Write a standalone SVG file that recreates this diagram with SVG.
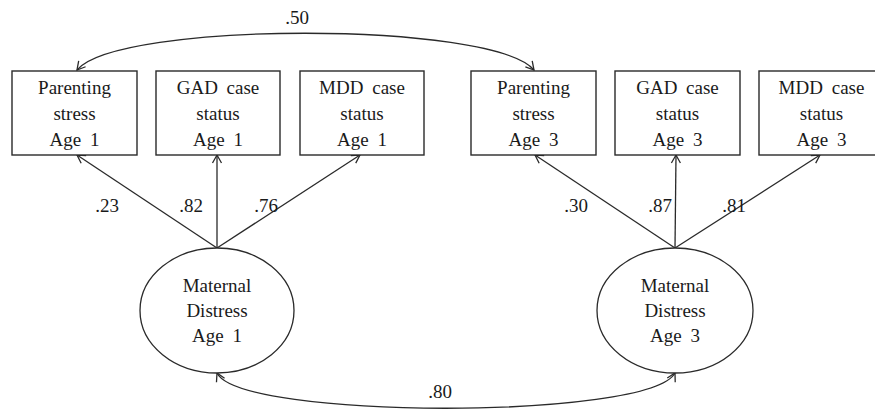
<svg xmlns="http://www.w3.org/2000/svg" width="875" height="414" viewBox="0 0 875 414">
  <style>
    .box { fill: #fff; stroke: #2a2a2a; stroke-width: 1.4; }
    .lat { fill: #fff; stroke: #2a2a2a; stroke-width: 1.3; }
    .lbl { font-family: "Liberation Serif", "Times New Roman", serif; font-size: 19px; word-spacing: 4px; fill: #1a1a1a; text-anchor: middle; }
    .edge { fill: none; stroke: #2a2a2a; stroke-width: 1.3; }
  </style>
  <defs>
    <!-- open V arrowhead, used at both ends of the curved correlations -->
    <marker id="vee" markerUnits="userSpaceOnUse" markerWidth="12" markerHeight="12" viewBox="-10 -6 12 12" refX="0" refY="0" orient="auto-start-reverse">
      <path d="M-8,-4.5 L0,0 L-8,4.5" fill="none" stroke="#2a2a2a" stroke-width="1.3"/>
    </marker>
  </defs>
  <rect width="875" height="414" fill="#fff"/>

  <!-- connectors: factor loadings and correlations -->
  <g id="connectors">
    <path class="edge" d="M217,248 L77,155" marker-end="url(#vee)"/>
    <path class="edge" d="M217,248 L217,155" marker-end="url(#vee)"/>
    <path class="edge" d="M217,248 L360,155" marker-end="url(#vee)"/>
    <path class="edge" d="M675,248 L535,155" marker-end="url(#vee)"/>
    <path class="edge" d="M675,248 L676,155" marker-end="url(#vee)"/>
    <path class="edge" d="M675,248 L820,155" marker-end="url(#vee)"/>
    <path class="edge" d="M77,70 C118,21 492,21 534,70" marker-start="url(#vee)" marker-end="url(#vee)"/>
    <path class="edge" d="M217,373 C240,420 650,420 675,373" marker-start="url(#vee)" marker-end="url(#vee)"/>
    <text class="lbl" x="297" y="24">.50</text>
    <text class="lbl" x="107" y="212">.23</text>
    <text class="lbl" x="191" y="212">.82</text>
    <text class="lbl" x="266" y="212">.76</text>
    <text class="lbl" x="576" y="212">.30</text>
    <text class="lbl" x="660" y="212">.87</text>
    <text class="lbl" x="734" y="212">.81</text>
    <text class="lbl" x="440" y="398">.80</text>
  </g>

  <g id="ps1">
    <rect class="box" x="12" y="71" width="125" height="84"/>
    <text class="lbl" x="74.5" y="94">Parenting</text>
    <text class="lbl" x="74.5" y="120">stress</text>
    <text class="lbl" x="74.5" y="146">Age 1</text>
  </g>
  <g id="gad1">
    <rect class="box" x="156" y="71" width="124" height="84"/>
    <text class="lbl" x="218" y="94">GAD case</text>
    <text class="lbl" x="218" y="120">status</text>
    <text class="lbl" x="218" y="146">Age 1</text>
  </g>
  <g id="mdd1">
    <rect class="box" x="300" y="71" width="124" height="84"/>
    <text class="lbl" x="362" y="94">MDD case</text>
    <text class="lbl" x="362" y="120">status</text>
    <text class="lbl" x="362" y="146">Age 1</text>
  </g>
  <g id="ps3">
    <rect class="box" x="471" y="71" width="125" height="84"/>
    <text class="lbl" x="533.5" y="94">Parenting</text>
    <text class="lbl" x="533.5" y="120">stress</text>
    <text class="lbl" x="533.5" y="146">Age 3</text>
  </g>
  <g id="gad3">
    <rect class="box" x="615" y="71" width="125" height="84"/>
    <text class="lbl" x="677.5" y="94">GAD case</text>
    <text class="lbl" x="677.5" y="120">status</text>
    <text class="lbl" x="677.5" y="146">Age 3</text>
  </g>
  <g id="mdd3">
    <rect class="box" x="759" y="71" width="125" height="84"/>
    <text class="lbl" x="821.5" y="94">MDD case</text>
    <text class="lbl" x="821.5" y="120">status</text>
    <text class="lbl" x="821.5" y="146">Age 3</text>
  </g>

  <g id="md1">
    <ellipse class="lat" cx="217" cy="310.5" rx="77" ry="62.5"/>
    <text class="lbl" x="217" y="292">Maternal</text>
    <text class="lbl" x="217" y="317">Distress</text>
    <text class="lbl" x="217" y="342">Age 1</text>
  </g>
  <g id="md3">
    <ellipse class="lat" cx="675" cy="310.5" rx="78" ry="62.5"/>
    <text class="lbl" x="675" y="292">Maternal</text>
    <text class="lbl" x="675" y="317">Distress</text>
    <text class="lbl" x="675" y="342">Age 3</text>
  </g>
</svg>
